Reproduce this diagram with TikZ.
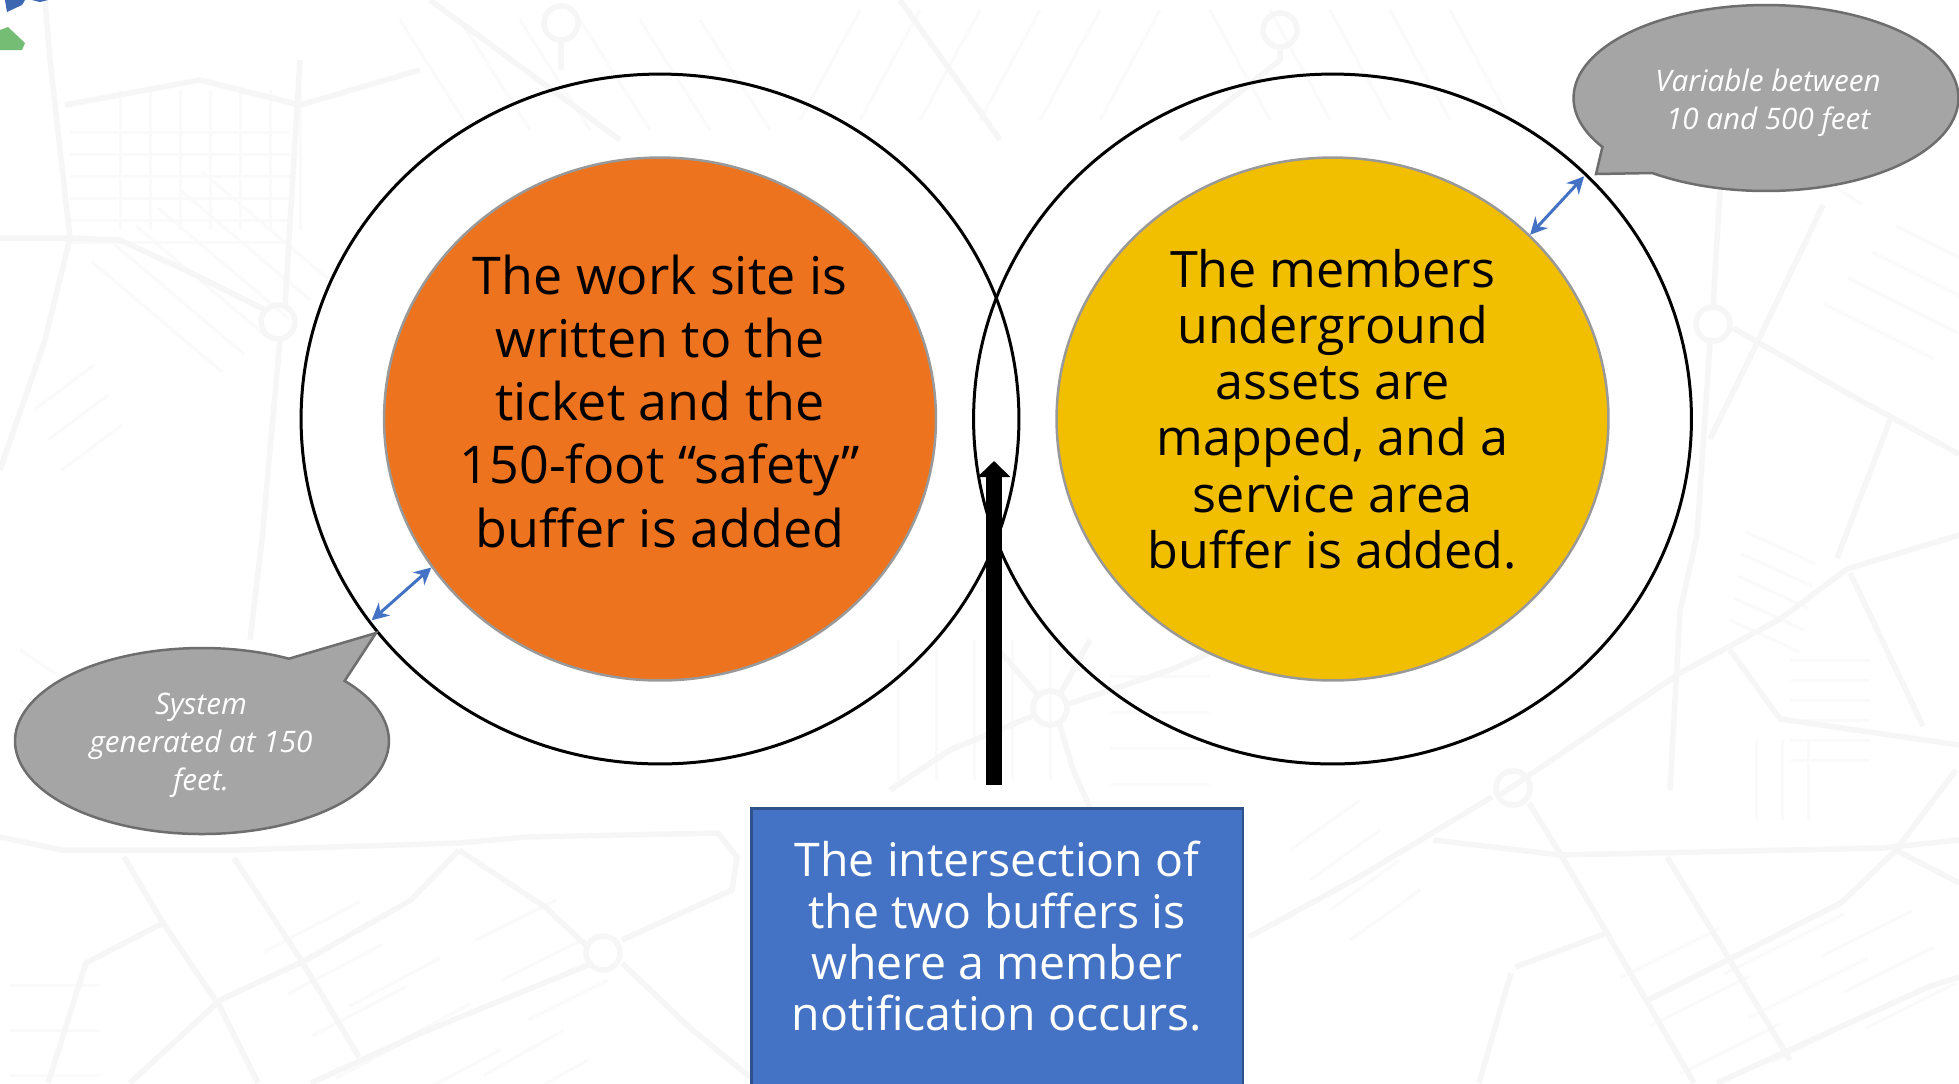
\documentclass[tikz,border=0pt]{standalone}
\usepackage{fontspec}
\setmainfont{Open Sans}
\usepackage{xcolor}
\usetikzlibrary{arrows.meta,shapes.geometric,shapes.callouts,positioning}
\definecolor{Pumpkin}{RGB}{237,115,30}
\definecolor{Amber}{RGB}{241,190,0}
\definecolor{Cobalt}{RGB}{68,114,196}
\definecolor{CobaltDark}{RGB}{47,82,143}
\definecolor{Slate}{RGB}{165,165,165}
\definecolor{Street}{RGB}{246,246,246}
\definecolor{Lane}{RGB}{250,250,250}
\tikzset{
  buffer/.style={ellipse,draw=black,line width=0.06cm,minimum width=14.36cm,minimum height=13.8cm},
  core/.style={ellipse,draw=gray!80,line width=0.05cm,minimum width=11.04cm,minimum height=10.46cm},
  gap/.style={draw=Cobalt,line width=0.06cm,shorten >=0.08cm,{Stealth[length=0.34cm,width=0.34cm]}-{Stealth[length=0.34cm,width=0.34cm]}},
  bubble/.style={ellipse callout,draw=black!57,fill=Slate,line width=0.05cm,callout pointer arc=22},
  bubbletext/.style={text=white,align=center,font=\fontsize{16.85}{21.7}\selectfont\itshape},
  street/.style={draw=Street,line width=0.11cm,line join=round},
  lane/.style={draw=Lane,line width=0.06cm},
}
\begin{document}
\begin{tikzpicture}[x=0.02cm,y=-0.02cm]
\useasboundingbox (0,0) rectangle (1959,1083);
\clip (0,0) rectangle (1959,1083);
\fill[white] (0,0) rectangle (1959,1083);
% side streets of the map
\foreach \xa/\ya/\dx/\dy/\ox/\oy/\n in {
  70/110/220/0/0/22/6, 90/90/0/140/30/0/7, 70/280/130/110/22/-18/6, 20/380/60/-45/14/30/3,
  240/910/95/-50/24/42/4, 320/960/90/-48/30/46/3, 450/900/80/-40/26/40/3, 540/1000/-80/45/24/30/3,
  1590/930/100/-50/30/48/3, 1700/930/120/-60/24/44/3, 1800/920/90/-45/22/36/3, 1270/820/70/-50/20/30/4,
  1760/190/80/50/22/-36/4, 1800/330/110/55/24/-26/4, 1750/510/70/32/-4/22/5, 1790/640/80/0/0/20/6,
  1730/740/0/80/26/0/3, 340/20/70/110/60/0/6, 800/10/-60/110/60/0/6, 1150/10/60/110/60/0/5,
  860/640/0/140/38/0/5, 1110/640/100/0/0/36/4, 20/600/60/40/0/50/3, 10/940/90/0/0/45/3} {
  \foreach \k in {1,...,\n} {
    \draw[lane] ({\xa+\k*\ox},{\ya+\k*\oy}) -- ++(\dx,\dy);
  }
}
% main streets of the map
\draw[street] (0,238) -- (70,238) -- (120,240) -- (185,270) -- (265,310);
\draw[street] (50,60) -- (70,238) -- (45,340) -- (0,470);
\draw[street] (45,0) -- (50,60);
\draw[street] (300,60) -- (285,305);
\draw[street] (280,340) -- (270,450) -- (262,540) -- (250,640);
\draw[street] (65,105) -- (200,80) -- (300,105) -- (420,70);
\draw[street] (0,837) -- (62,850) -- (239,850) -- (459,843) -- (526,837) -- (718,833) -- (737,857) -- (732,890) -- (622,940);
\draw[street] (124,857) -- (163,923) -- (220,1007) -- (258,1083);
\draw[street] (234,858) -- (301,960) -- (359,1057);
\draw[street] (459,850) -- (411,900) -- (306,960) -- (220,1000) -- (130,1083);
\draw[street] (459,850) -- (545,907) -- (588,947);
\draw[street] (593,963) -- (421,1033) -- (311,1083);
\draw[street] (622,963) -- (689,1027) -- (750,1077);
\draw[street] (163,923) -- (86,963) -- (48,1083);
\draw[street] (1433,840) -- (1561,855) -- (1882,848) -- (1959,840);
\draw[street] (1249,937) -- (1359,877) -- (1492,797);
\draw[street] (1529,803) -- (1561,855) -- (1607,933) -- (1694,1083);
\draw[street] (1667,857) -- (1722,947) -- (1790,1060);
\draw[street] (1515,967) -- (1607,933);
\draw[street] (1511,973) -- (1479,1083);
\draw[street] (1648,1000) -- (1841,903) -- (1896,850) -- (1956,770);
\draw[street] (1717,1083) -- (1928,987) -- (1959,977);
\draw[street] (1896,850) -- (1959,883);
\draw[street] (1733,328) -- (1847,393) -- (1959,454);
\draw[street] (1823,205) -- (1757,343) -- (1710,439);
\draw[street] (1720,190) -- (1713,307);
\draw[street] (1710,343) -- (1697,535) -- (1680,611) -- (1670,790);
\draw[street] (1500,795) -- (1680,673) -- (1780,619) -- (1847,569) -- (1959,535);
\draw[street] (1837,558) -- (1890,420);
\draw[street] (1850,573) -- (1923,726);
\draw[street] (1730,650) -- (1780,719) -- (1959,745);
\draw[street] (1060,725) -- (1073,770) -- (1100,830);
\draw[street] (1035,715) -- (950,750) -- (890,790);
\draw[street] (1065,705) -- (1170,670) -- (1240,640);
\draw[street] (1060,694) -- (1090,640);
\draw[street] (1038,695) -- (990,640);
\draw[street] (561,40) -- (561,70);
\draw[street] (430,0) -- (620,140);
\draw[street] (1280,47) -- (1280,60) -- (1180,140);
\draw[street] (900,0) -- (1000,140);
\foreach \xa/\ya in {278/322, 1713/324, 603/953, 1050/708, 1513/788, 561/23, 1280/30} {
  \draw[street] (\xa,\ya) circle (17);
}
% top left corner scraps
\fill[Cobalt!90!black] (5,0) -- (25,0) -- (22,5) -- (7,12) -- cycle;
\fill[Cobalt!90!black] (32,0) -- (48,0) -- (40,2) -- cycle;
\fill[green!35!gray!80] (0,30) -- (8,27) -- (25,43) -- (22,50) -- (0,50) -- cycle;
% buffers
\node[buffer] (sitebuffer) at (660,419) {};
\node[buffer] (memberbuffer) at (1332.5,419) {};
\node[core,fill=Pumpkin] (site) at (660,419) {};
\node[core,fill=Amber] (member) at (1332.5,419) {};
\node[align=center,font=\fontsize{29.6}{36}\selectfont] (sitetext) at (660,401)
  {The work site is\\written to the\\ticket and the\\150-foot “safety”\\buffer is added};
\node[align=center,font=\fontsize{28.6}{32}\selectfont] (membertext) at (1332.5,409)
  {The members\\underground\\assets are\\mapped, and a\\service area\\buffer is added.};
% blue arrows
\draw[gap] (site.213) -- (sitebuffer.215.3);
\draw[gap] (member.43) -- (memberbuffer.44.6);
% callouts
\coordinate (sitetip) at (376,633);
\coordinate (membertip) at (1596,174);
\node[bubble,minimum width=7.48cm,minimum height=3.72cm,callout absolute pointer={(sitetip)}] (sitebubble) at (202,741) {};
\node[bubble,minimum width=7.7cm,minimum height=3.72cm,callout absolute pointer={(membertip)}] (memberbubble) at (1766,98) {};
\node[bubbletext] (sitebubbletext) at (201,745.5) {System\\generated at 150\\feet.};
\node[bubbletext] (memberbubbletext) at (1768,102.5) {Variable between\\10 and 500 feet};
% note and its arrow
\node[rectangle,draw=CobaltDark,fill=Cobalt,line width=0.05cm,anchor=north west,minimum width=9.84cm,minimum height=6.2cm] (note) at (750,807) {};
\node[align=center,text=white,font=\fontsize{26.4}{29.2}\selectfont] (notetext) at (997,936.5)
  {The intersection of\\the two buffers is\\where a member\\notification occurs.};
\coordinate (overlap) at (994,461);
\coordinate (foot) at (994,785);
\draw[line width=0.32cm,-{Triangle[length=0.32cm,width=0.64cm]}] (foot) -- (overlap);
\end{tikzpicture}
\end{document}
